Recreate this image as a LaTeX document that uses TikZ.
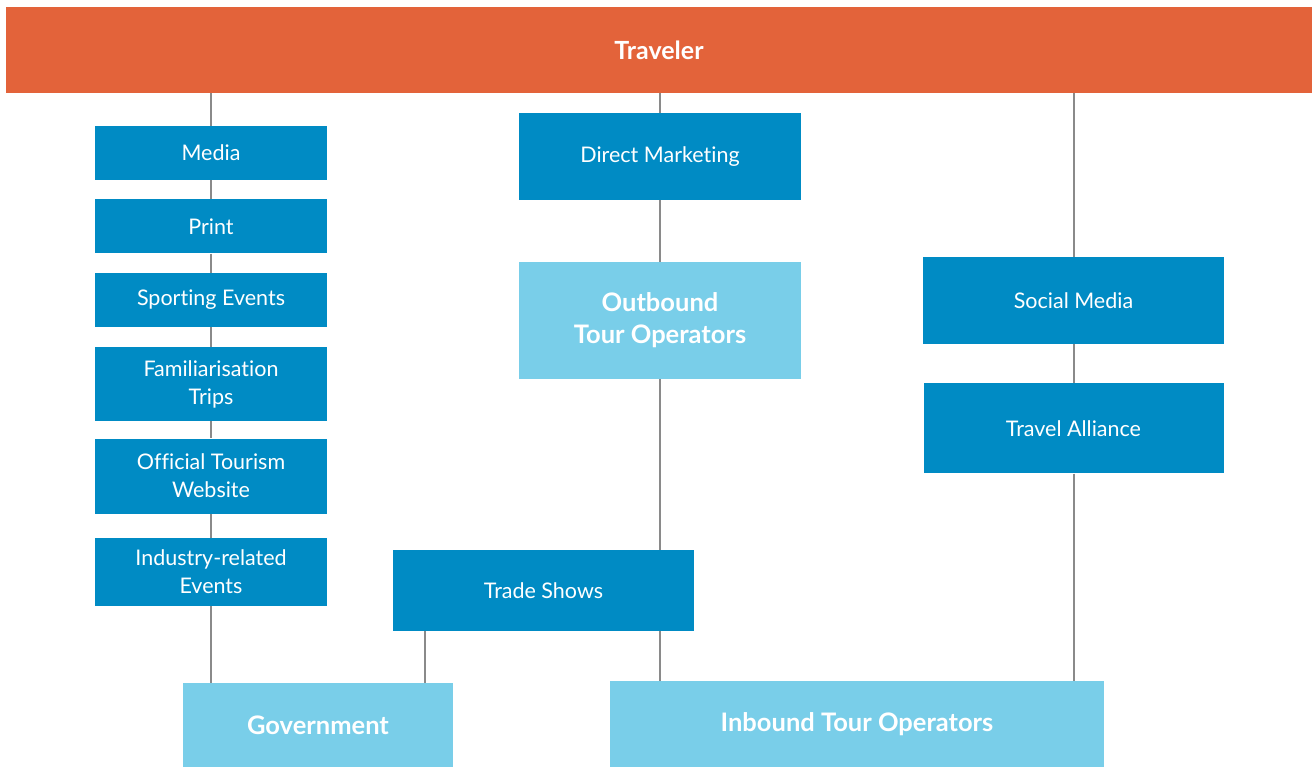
\documentclass[tikz,border=0pt]{standalone}
\usepackage{fontspec}
\setmainfont{Lato}[Ligatures=NoCommon]
\usetikzlibrary{positioning}
\definecolor{travelorange}{RGB}{227,99,58}
\definecolor{chanblue}{RGB}{0,139,196}
\definecolor{agentblue}{RGB}{121,206,233}
\definecolor{linkgray}{RGB}{138,138,138}

\begin{document}
\begin{tikzpicture}[x=1pt, y=-1pt,
    chanbox/.style={rectangle, fill=chanblue, text=white, align=center, inner sep=0pt,
        minimum width=232pt, font=\fontsize{21.5}{28}\selectfont},
    agentbox/.style={rectangle, fill=agentblue, text=white, align=center, inner sep=0pt,
        font=\bfseries\fontsize{25.5}{32}\selectfont},
    link/.style={draw=linkgray, line width=2pt}
    ]
        \useasboundingbox (0,0) rectangle (1314,767);

        %Top bar
        \node[rectangle, fill=travelorange, text=white, inner sep=0pt,
              minimum width=1306pt, minimum height=86pt,
              font=\bfseries\fontsize{25}{28}\selectfont]
            (trav) at (659,50) {Traveler};

        %Left column
        \node[chanbox, minimum height=54pt]
            (media) at (211,153) {Media};
        \node[chanbox, minimum height=54pt]
            (print) [below=19pt of media] {Print};
        \node[chanbox, minimum height=54pt]
            (sport) [below=19pt of print] {Sporting Events};
        \node[chanbox, minimum height=74pt]
            (famtrip) [below=20pt of sport] {Familiarisation\\Trips};
        \node[chanbox, minimum height=75pt]
            (website) [below=17pt of famtrip] {Official Tourism\\Website};
        \node[chanbox, minimum height=68pt]
            (industry) [below=24pt of website] {Industry-related\\Events};

        %Middle column
        \node[chanbox, minimum width=282pt, minimum height=87pt]
            (direct) at (660,156.5) {Direct Marketing};
        \node[agentbox, minimum width=282pt, minimum height=117pt]
            (outbound) at (660,320.5) {Outbound\\Tour Operators};
        \node[chanbox, minimum width=301pt, minimum height=81pt]
            (trade) at (543.5,590.5) {Trade Shows};

        %Right column
        \node[chanbox, minimum width=301pt, minimum height=87pt]
            (social) at (1073.5,300.5) {Social Media};
        \node[chanbox, minimum width=300pt, minimum height=90pt]
            (alliance) [below=39pt of social] {Travel Alliance};

        %Bottom
        \node[agentbox, minimum width=270pt, minimum height=84pt]
            (gov) at (318,725) {Government};
        \node[agentbox, minimum width=494pt, minimum height=86pt]
            (inbound) at (857,724) {Inbound Tour Operators};

        %Lines
        \draw[link] (trav.south -| media.north) -- (media.north);
        \draw[link] (media.south) -- (print.north);
        \draw[link] (print.south) -- (sport.north);
        \draw[link] (sport.south) -- (famtrip.north);
        \draw[link] (famtrip.south) -- (website.north);
        \draw[link] (website.south) -- (industry.north);
        \draw[link] (industry.south) -- (industry.south |- gov.north);

        \draw[link] (trav.south -| direct.north) -- (direct.north);
        \draw[link] (direct.south) -- (outbound.north);
        \draw[link] (outbound.south) -- (outbound.south |- trade.north);
        \draw[link] (outbound.south |- trade.south) -- (outbound.south |- inbound.north);
        \draw[link] ([xshift=32pt]trade.south west) -- ([xshift=32pt]trade.south west |- gov.north);

        \draw[link] (trav.south -| social.north) -- (social.north);
        \draw[link] (social.south) -- (alliance.north);
        \draw[link] (alliance.south) -- (alliance.south |- inbound.north);
    \end{tikzpicture}
\end{document}
